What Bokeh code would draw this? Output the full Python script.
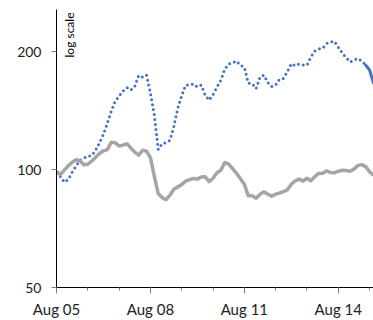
import math
import pandas as pd
from bokeh.plotting import figure
from bokeh.models import FixedTicker, DatetimeTickFormatter, Label, Range1d
from bokeh.embed import file_html
from bokeh.resources import INLINE

# ---- data (3-hourly readings starting Aug 05 00:00) ----
start_time = "2019-08-05 00:00"
step = "3h"
blue_values = [
    97.8, 95.9, 92.8, 94.3, 98.4, 102.0, 105.6, 106.9, 108.1, 108.5,
    112.0, 117.1, 123.1, 131.3, 140.9, 149.5, 153.9, 158.5, 161.8, 159.5,
    163.2, 173.7, 172.1, 174.2, 156.7, 137.6, 112.5, 116.5, 117.1, 118.8,
    129.0, 143.4, 154.4, 164.2, 164.2, 165.2, 162.3, 164.2, 154.8, 150.3,
    155.3, 162.3, 169.1, 180.4, 185.8, 187.5, 189.1, 184.2, 182.6, 166.2,
    165.7, 160.9, 172.1, 174.2, 166.6, 162.8, 164.2, 170.1, 170.8, 177.8,
    186.3, 183.9, 185.8, 184.7, 184.7, 193.6, 200.6, 203.0, 203.8, 209.6,
    211.5, 212.4, 205.0, 198.3, 193.1, 188.0, 190.2, 191.9, 189.1, 184.7,
    179.4, 166.2,
]
gray_values = [
    99.0, 97.0, 99.6, 102.2, 104.4, 105.9, 105.3, 102.9, 103.2, 105.0,
    107.5, 109.9, 111.6, 112.4, 117.4, 117.1, 114.8, 115.4, 116.4, 113.4,
    110.7, 108.8, 112.0, 111.4, 107.2, 96.1, 86.7, 84.8, 83.8, 86.0,
    89.1, 90.3, 91.5, 93.4, 94.2, 94.9, 94.5, 95.7, 95.9, 93.1,
    95.0, 98.1, 99.6, 104.2, 103.2, 100.5, 97.8, 94.7, 91.7, 85.7,
    85.7, 84.5, 86.5, 87.7, 86.5, 85.5, 86.5, 87.1, 87.8, 88.8,
    91.7, 93.6, 94.5, 93.4, 95.0, 93.6, 95.9, 97.7, 97.8, 99.2,
    98.2, 98.1, 99.0, 99.6, 99.4, 99.0, 100.2, 102.3, 102.9, 101.7,
    98.7, 96.7,
]
solid_from = 79  # index where the blue line turns solid
y_ticks = [50, 100, 200]
y_min, y_max = 50, 256
x_major_dates = ["2019-08-05", "2019-08-08", "2019-08-11", "2019-08-14"]
x_minor_dates = [f"2019-08-{d:02d}" for d in range(5, 16)]
note = "log scale"

times = pd.date_range(start_time, periods=len(blue_values), freq=step)

def ms(t):
    return pd.Timestamp(t).value / 1e6

p = figure(width=373, height=320, x_axis_type="datetime", y_axis_type="log",
           output_backend="svg", toolbar_location=None,
           min_border_left=56, min_border_right=0, min_border_top=9, min_border_bottom=33)
p.x_range = Range1d(times[0], times[-1])
p.y_range = Range1d(y_min, y_max)

p.line(times[:solid_from + 1], blue_values[:solid_from + 1], line_color="#4472C4",
       line_width=3, line_dash="0 5", line_cap="round")
p.line(times[solid_from:], blue_values[solid_from:], line_color="#4472C4",
       line_width=3, line_cap="round")
p.line(times, gray_values, line_color="#A5A5A5", line_width=3.5, line_join="round")

p.xgrid.visible = False
p.ygrid.visible = False
p.outline_line_color = None
p.background_fill_color = "white"
p.border_fill_color = "white"

font = "Lato"
ya = p.yaxis[0]
ya.ticker = FixedTicker(ticks=y_ticks)
ya.major_label_overrides = {v: str(v) for v in y_ticks}
ya.minor_tick_line_color = None
ya.major_tick_in = 0
ya.major_tick_out = 5
ya.major_label_standoff = 10
ya.axis_line_color = "black"
ya.major_tick_line_color = "#808080"
ya.major_label_text_font = font
ya.major_label_text_font_size = "14px"
ya.major_label_text_color = "#222222"

xa = p.xaxis[0]
xa.ticker = FixedTicker(ticks=[ms(d) for d in x_major_dates],
                        minor_ticks=[ms(d) for d in x_minor_dates])
xa.formatter = DatetimeTickFormatter(days="%b %d", months="%b %d", hours="%b %d",
                                     years="%b %d")
xa.major_tick_in = 0
xa.major_tick_out = 6
xa.minor_tick_in = 0
xa.minor_tick_out = 3
xa.major_label_standoff = 6
xa.axis_line_color = "black"
xa.major_tick_line_color = "#808080"
xa.minor_tick_line_color = "#808080"
xa.major_label_text_font = font
xa.major_label_text_font_size = "15px"
xa.major_label_text_color = "#222222"

lbl = Label(x=times[0], y=y_max, x_offset=12.5, y_offset=-3, text=note, angle=math.pi / 2,
            text_align="right", text_baseline="middle", text_font=font,
            text_font_size="12px", text_color="black")
p.add_layout(lbl)

open("out.html", "w").write(file_html(p, INLINE))
